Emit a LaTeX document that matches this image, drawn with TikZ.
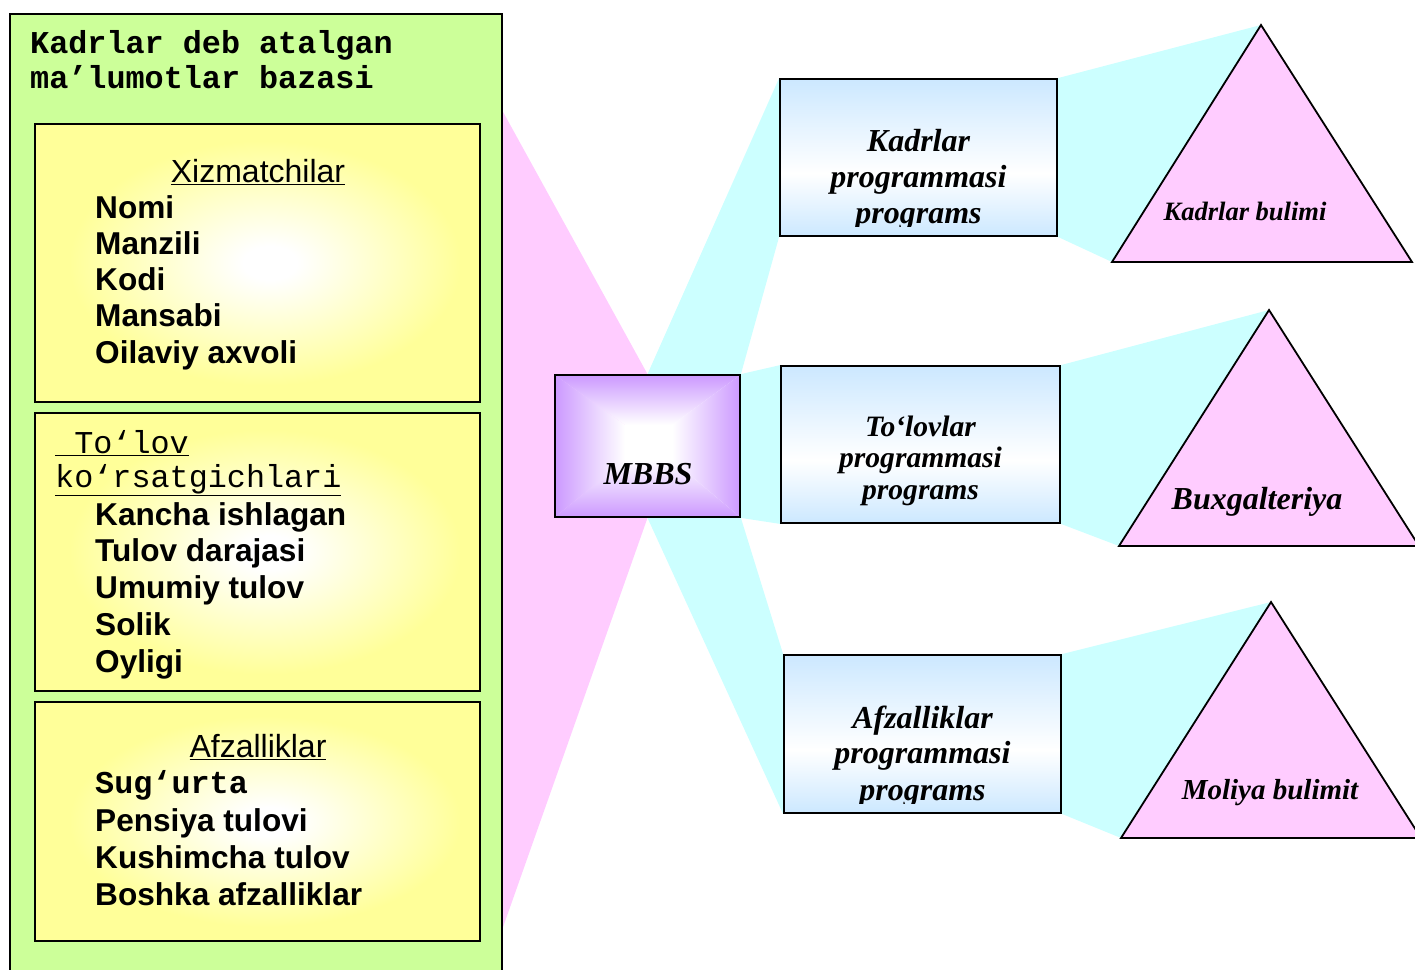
\documentclass[tikz,border=0pt]{standalone}
\usepackage{fontspec}
\newfontfamily\arialfont{Liberation Sans}
\newfontfamily\timesfont{Liberation Serif}
\newfontfamily\courierfont{Liberation Mono}
\usetikzlibrary{backgrounds}

\definecolor{dbgreen}{HTML}{CCFF99}
\definecolor{tableyellow}{HTML}{FFFF99}
\definecolor{fanpink}{HTML}{FFCCFF}
\definecolor{fancyan}{HTML}{CCFFFF}
\definecolor{progblue}{HTML}{CCE8FF}
\definecolor{mbbsviolet}{HTML}{CC99FF}

\pgfdeclareradialshading{tableshade}{\pgfpoint{1.5bp}{0bp}}{color(0bp)=(white); color(3bp)=(white); color(22bp)=(tableyellow); color(50bp)=(tableyellow)}
\pgfdeclareverticalshading{progshade}{100bp}{color(0bp)=(progblue); color(25bp)=(progblue); color(45bp)=(white); color(75bp)=(progblue); color(100bp)=(progblue)}

\tikzset{
  boxline/.style={draw=black, line width=1.8pt},
  tablebox/.style={boxline, shade, shading=tableshade, minimum width=445pt, inner sep=0pt},
  progbox/.style={boxline, shade, shading=progshade, minimum width=277pt, minimum height=157pt, inner sep=0pt},
  dept/.style={boxline, fill=fanpink},
  field/.style={anchor=base west, inner sep=0pt, font=\arialfont\bfseries\fontsize{31.6}{37}\selectfont},
  heading/.style={anchor=base, inner sep=0pt, font=\arialfont\fontsize{32}{37}\selectfont},
  mono/.style={anchor=base west, inner sep=0pt, font=\courierfont\fontsize{31.8}{35}\selectfont},
  monobold/.style={anchor=base west, inner sep=0pt, font=\courierfont\bfseries\fontsize{31.8}{35}\selectfont},
  progline/.style={anchor=base, inner sep=0pt, font=\timesfont\bfseries\itshape\fontsize{32}{36}\selectfont},
}

\begin{document}
\begin{tikzpicture}[x=1pt, y=-1pt]
\useasboundingbox (0,0) rectangle (1415,969);

% database panel
\draw[boxline, fill=dbgreen] (10,14) rectangle (502,990);
\node[monobold] (dbtitle1) at (30,53) {Kadrlar deb atalgan};
\node[monobold] (dbtitle2) at (30,88) {ma’lumotlar bazasi};

% tables
\node[tablebox, minimum height=278pt] (xizmat) at (257.5,263) {};
\node[tablebox, minimum height=278pt] (tolov) at (257.5,552) {};
\node[tablebox, minimum height=239pt] (afzal) at (257.5,821.5) {};

\node[heading] (xizmathead) at (258,182) {\underline{Xizmatchilar}};
\foreach \f [count=\i] in {Nomi, Manzili, Kodi, Mansabi, Oilaviy axvoli}
  \node[field] (xizmat\i) at (95,181.75+36.25*\i) {\f};

\node[mono] (tolovhead1) at (55,453) {\underline{\ To‘lov}};
\node[mono] (tolovhead2) at (55,487) {\underline{ko‘rsatgichlari}};
\foreach \f [count=\i] in {Kancha ishlagan, Tulov darajasi, Umumiy tulov, Solik, Oyligi}
  \node[field] (tolov\i) at (95,488.2+36.8*\i) {\f};

\node[heading] (afzalhead) at (258,757) {\underline{Afzalliklar}};
\node[monobold] (afzal1) at (95,793) {Sug‘urta};
\foreach \f [count=\i from 2] in {Pensiya tulovi, Kushimcha tulov, Boshka afzalliklar}
  \node[field] (afzal\i) at (95,757+37*\i) {\f};

% MBBS block, shaded from the rim inwards
\shade[top color=mbbsviolet, bottom color=white] (555,375) -- (740,375) -- (672,425) -- (625,425) -- cycle;
\shade[top color=white, bottom color=mbbsviolet] (625,460) -- (672,460) -- (740,517) -- (555,517) -- cycle;
\shade[left color=mbbsviolet, right color=white] (555,375) -- (625,425) -- (625,460) -- (555,517) -- cycle;
\shade[left color=white, right color=mbbsviolet] (740,375) -- (672,425) -- (672,460) -- (740,517) -- cycle;
\fill[white] (625,425) rectangle (672,460);
\node[boxline, minimum width=185pt, minimum height=142pt, inner sep=0pt] (mbbs) at (647.5,446) {};
\node[progline] (mbbsname) at (648,484) {MBBS};

% programs
\node[progbox] (kprog) at (918.5,157.5) {};
\node[progbox, minimum width=279pt] (tprog) at (920.5,444.5) {};
\node[progbox, minimum height=158pt] (aprog) at (922.5,734) {};

\begin{scope}
  \clip (kprog.north west) rectangle (1057,226);
  \node[progline] (kprog1) at (918.5,151) {Kadrlar};
  \node[progline] (kprog2) at (918.5,187) {programmasi};
  \node[progline] (kprog3) at (918.5,223) {programs};
\end{scope}

\node[progline, font=\timesfont\bfseries\itshape\fontsize{29.6}{33}\selectfont] (tprog1) at (920.5,436) {To‘lovlar};
\node[progline, font=\timesfont\bfseries\itshape\fontsize{29.6}{33}\selectfont] (tprog2) at (920.5,467.5) {programmasi};
\node[progline, font=\timesfont\bfseries\itshape\fontsize{29.6}{33}\selectfont] (tprog3) at (920.5,499) {programs};

\begin{scope}
  \clip (aprog.north west) rectangle (1061,803);
  \node[progline] (aprog1) at (922.5,728) {Afzalliklar};
  \node[progline] (aprog2) at (922.5,763) {programmasi};
  \node[progline] (aprog3) at (922.5,800) {programs};
\end{scope}

% departments
\coordinate (kdtop) at (1261,25);
\coordinate (kdleft) at (1112,262);
\coordinate (kdright) at (1412,262);
\coordinate (bxtop) at (1269,310);
\coordinate (bxleft) at (1119,546);
\coordinate (bxright) at (1419,546);
\coordinate (mltop) at (1271,602);
\coordinate (mlleft) at (1121,838);
\coordinate (mlright) at (1421,838);

\draw[dept] (kdtop) -- (kdright) -- (kdleft) -- cycle;
\draw[dept] (bxtop) -- (bxright) -- (bxleft) -- cycle;
\draw[dept] (mltop) -- (mlright) -- (mlleft) -- cycle;

\node[progline, font=\timesfont\bfseries\itshape\fontsize{26.5}{30}\selectfont] (kdname) at (1245,220) {Kadrlar bulimi};
\node[progline] (bxname) at (1257,509) {Buxgalteriya};
\node[progline, font=\timesfont\bfseries\itshape\fontsize{29}{33}\selectfont] (mlname) at (1270,799) {Moliya bulimit};

% fans behind everything
\coordinate (dbtop) at (502,110);
\coordinate (dbbottom) at (502,930);
\begin{pgfonlayer}{background}
  \fill[fanpink] (dbtop) -- (mbbs.north) -- (mbbs.south) -- (dbbottom) -- cycle;
  \fill[fancyan] (mbbs.north) -- (kprog.north west) -- (kprog.south west) -- (mbbs.north east) -- cycle;
  \fill[fancyan] (mbbs.north east) -- (tprog.north west) -- (tprog.south west) -- (mbbs.south east) -- cycle;
  \fill[fancyan] (mbbs.south) -- (mbbs.south east) -- (aprog.north west) -- (aprog.south west) -- cycle;
  \fill[fancyan] (kprog.north east) -- (kdtop) -- (kdleft) -- (kprog.south east) -- cycle;
  \fill[fancyan] (tprog.north east) -- (bxtop) -- (bxleft) -- (tprog.south east) -- cycle;
  \fill[fancyan] (aprog.north east) -- (mltop) -- (mlleft) -- (aprog.south east) -- cycle;
\end{pgfonlayer}
\end{tikzpicture}
\end{document}
